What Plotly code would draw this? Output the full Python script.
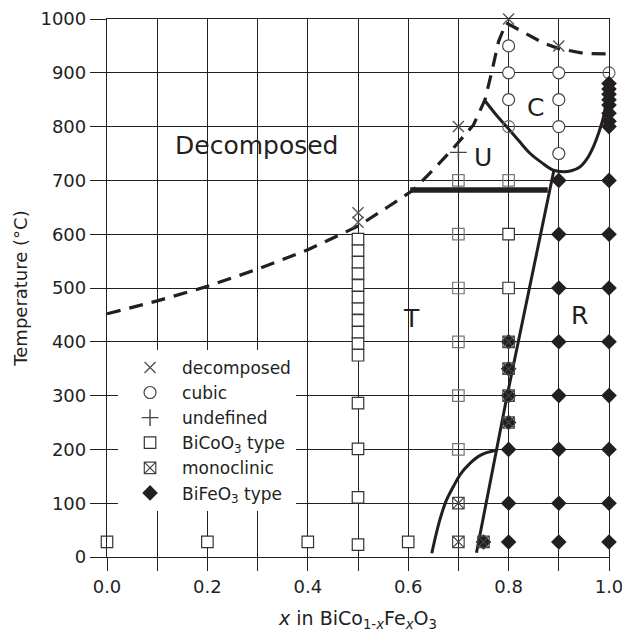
import plotly.graph_objects as go

# ---------------- data ----------------
decomp_x = [0.5, 0.5, 0.7, 0.8, 0.9]
decomp_y = [640, 622, 800, 1000, 950]

cubic_x = [0.8, 0.8, 0.8, 0.9, 0.9, 0.9, 0.9]
cubic_y = [950, 900, 850, 900, 850, 800, 750]
cubic_open_x = [0.8, 1.0]
cubic_open_y = [800, 900]

undef_x = [0.7]
undef_y = [752]

bicoo3_x = [0.0, 0.2, 0.4, 0.5, 0.6,
            0.5, 0.5, 0.5,
            0.5, 0.5, 0.5, 0.5, 0.5, 0.5, 0.5, 0.5, 0.5, 0.5, 0.5,
            0.8, 0.8]
bicoo3_y = [28, 28, 28, 23, 28,
            111, 201, 286,
            375, 397, 418, 440, 462, 483, 505, 527, 548, 570, 591,
            600, 500]
bicoo3_open_x = [0.7, 0.7, 0.7, 0.7, 0.7, 0.7, 0.8]
bicoo3_open_y = [700, 600, 500, 400, 300, 200, 700]

mono_x = [0.7, 0.7, 0.75, 0.8, 0.8, 0.8, 0.8]
mono_y = [100, 28, 28, 400, 350, 300, 250]

bifeo3_x = [0.75,
            0.8, 0.8, 0.8, 0.8, 0.8, 0.8, 0.8,
            0.9, 0.9, 0.9, 0.9, 0.9, 0.9, 0.9, 0.9,
            1.0, 1.0, 1.0, 1.0, 1.0, 1.0, 1.0, 1.0,
            1.0, 1.0, 1.0, 1.0, 1.0, 1.0, 1.0, 1.0]
bifeo3_y = [28,
            400, 350, 300, 250, 200, 100, 28,
            700, 600, 500, 400, 300, 200, 100, 28,
            700, 600, 500, 400, 300, 200, 100, 28,
            800, 810, 825, 840, 850, 860, 870, 880]

# phase boundaries
dash_x = [0.0, 0.1, 0.2, 0.3, 0.4, 0.5, 0.56, 0.61, 0.65, 0.69, 0.73, 0.753,
          0.766, 0.78, 0.795, 0.83, 0.87, 0.9, 0.95, 1.0]
dash_y = [452, 476, 503, 535, 571, 615, 651, 682, 720, 760, 803, 850,
          900, 958, 993, 975, 955, 945, 936, 935]

cub_x = [0.753, 0.775, 0.796, 0.82, 0.843, 0.866, 0.889, 0.909, 0.925, 0.942,
         0.956, 0.969, 0.98, 0.989, 0.995, 1.0]
cub_y = [848, 822, 800, 774, 750, 733, 719, 716, 718, 725,
         740, 763, 790, 818, 850, 880]

thick_x = [0.604, 0.878]
thick_y = [682, 682]

steep_x = [0.736, 0.796, 0.89]
steep_y = [8, 295, 718]

low_x = [0.647, 0.655, 0.663, 0.675, 0.69, 0.705, 0.723, 0.74, 0.756, 0.778]
low_y = [7, 40, 69, 103, 131, 155, 174, 187, 194, 199]

x_ticks = [0.0, 0.1, 0.2, 0.3, 0.4, 0.5, 0.6, 0.7, 0.8, 0.9, 1.0]
x_labels = ["0.0", "", "0.2", "", "0.4", "", "0.6", "", "0.8", "", "1.0"]
y_ticks = [0, 100, 200, 300, 400, 500, 600, 700, 800, 900, 1000]

region_labels = ["Decomposed", "U", "C", "T", "R"]
region_x = [0.297, 0.749, 0.853, 0.606, 0.942]
region_y = [764, 743, 836, 444, 448]

# ---------------- figure ----------------
INK = "#231f20"
FONT = "DejaVu Sans, sans-serif"

fig = go.Figure()

fig.add_trace(go.Scatter(x=dash_x, y=dash_y, mode="lines", showlegend=False,
                         line=dict(color=INK, width=3.2, dash="14px,9px")))
fig.add_trace(go.Scatter(x=cub_x, y=cub_y, mode="lines", showlegend=False,
                         line=dict(color=INK, width=3, shape="spline")))
fig.add_trace(go.Scatter(x=thick_x, y=thick_y, mode="lines", showlegend=False,
                         line=dict(color=INK, width=5.5)))
fig.add_trace(go.Scatter(x=steep_x, y=steep_y, mode="lines", showlegend=False,
                         line=dict(color=INK, width=3, shape="spline")))
fig.add_trace(go.Scatter(x=low_x, y=low_y, mode="lines", showlegend=False,
                         line=dict(color=INK, width=3, shape="spline")))

# markers
fig.add_trace(go.Scatter(x=decomp_x, y=decomp_y, mode="markers", name="decomposed",
                         cliponaxis=False, legendrank=1,
                         marker=dict(symbol="x-thin-open", size=11, color="#555",
                                     line=dict(color="#555", width=1.4))))
fig.add_trace(go.Scatter(x=cubic_x, y=cubic_y, mode="markers", name="cubic",
                         cliponaxis=False, legendrank=2, legendgroup="cubic",
                         marker=dict(symbol="circle", size=12, color="white",
                                     line=dict(color="#444", width=1.2))))
fig.add_trace(go.Scatter(x=cubic_open_x, y=cubic_open_y, mode="markers", name="cubic",
                         cliponaxis=False, showlegend=False, legendgroup="cubic",
                         marker=dict(symbol="circle-open", size=12, color="#666",
                                     line=dict(color="#666", width=1.2))))
fig.add_trace(go.Scatter(x=undef_x, y=undef_y, mode="markers", name="undefined",
                         cliponaxis=False, legendrank=3,
                         marker=dict(symbol="cross-thin-open", size=12, color="#444",
                                     line=dict(color="#444", width=1.4))))
fig.add_trace(go.Scatter(x=bicoo3_x, y=bicoo3_y, mode="markers",
                         name="BiCoO<sub>3</sub> type",
                         cliponaxis=False, legendrank=4, legendgroup="co",
                         marker=dict(symbol="square", size=11.5, color="white",
                                     line=dict(color="#333", width=1.2))))
fig.add_trace(go.Scatter(x=bicoo3_open_x, y=bicoo3_open_y, mode="markers",
                         name="BiCoO<sub>3</sub> type", showlegend=False,
                         cliponaxis=False, legendgroup="co",
                         marker=dict(symbol="square-open", size=11.5, color="#777",
                                     line=dict(color="#777", width=1.2))))
fig.add_trace(go.Scatter(x=bifeo3_x, y=bifeo3_y, mode="markers", name="BiFeO<sub>3</sub> type",
                         cliponaxis=False, legendrank=6,
                         marker=dict(symbol="diamond", size=12, color=INK,
                                     line=dict(width=0))))
fig.add_trace(go.Scatter(x=mono_x, y=mono_y, mode="markers", name="monoclinic",
                         cliponaxis=False, legendrank=5,
                         marker=dict(symbol="square-x-open", size=11.5, color="#444",
                                     line=dict(color="#444", width=1.2))))

for t, xx, yy in zip(region_labels, region_x, region_y):
    fig.add_annotation(x=xx, y=yy, xref="x", yref="y", text=t, showarrow=False,
                       font=dict(family=FONT, size=25, color=INK))

axis_common = dict(showgrid=True, gridcolor=INK, gridwidth=1.3,
                   showline=True, mirror=True, linecolor=INK, linewidth=1.3,
                   ticks="outside", tickcolor=INK, tickwidth=1.3, automargin=False,
                   zeroline=False, tickfont=dict(family=FONT, size=18, color=INK))

fig.update_xaxes(range=[0, 1], tickmode="array", tickvals=x_ticks, ticktext=x_labels,
                 ticklen=13, ticklabeloverflow="allow",
                 title=dict(text="<i>x</i> in BiCo<sub>1-<i>x</i></sub>Fe<sub><i>x</i></sub>O<sub>3</sub>",
                            font=dict(family=FONT, size=19, color=INK), standoff=15),
                 **axis_common)
fig.update_yaxes(range=[0, 1000], tickmode="array", tickvals=y_ticks,
                 ticklen=16, ticklabeloverflow="allow",
                 title=dict(text="Temperature (°C)",
                            font=dict(family=FONT, size=18, color=INK), standoff=8),
                 **axis_common)

fig.update_layout(
    width=622, height=639,
    margin=dict(l=107, r=13, t=19, b=82),
    plot_bgcolor="white", paper_bgcolor="white",
    font=dict(family=FONT, color=INK),
    showlegend=True,
    legend=dict(x=0.022, y=0.385, xanchor="left", yanchor="top",
                bgcolor="white", borderwidth=0,
                font=dict(family=FONT, size=17, color=INK),
                tracegroupgap=0, itemwidth=54),
)

# let the figure fill the window exactly (no default page margin / scrollbars)
page_fix = ("document.body.style.margin='0';"
            "document.body.style.overflow='hidden';"
            "document.documentElement.style.overflow='hidden';")

fig.write_html("out.html", post_script=page_fix, config={"displayModeBar": False})
